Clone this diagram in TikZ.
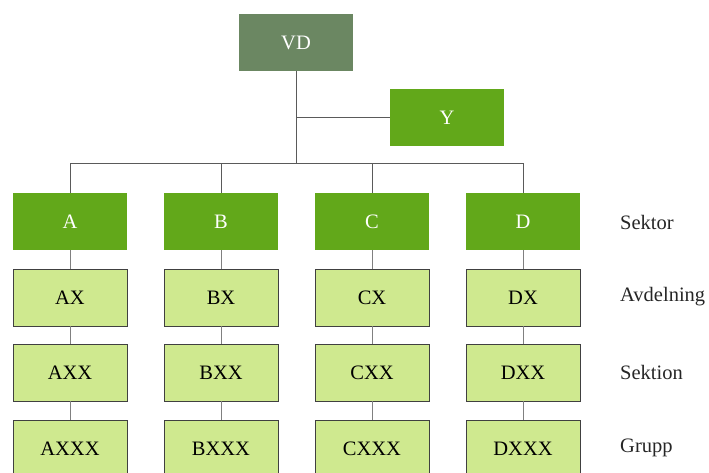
\documentclass[tikz,border=0pt]{standalone}
\usepackage{fontspec}
\setmainfont{Liberation Serif}
\definecolor{vdgreen}{RGB}{107,135,98}
\definecolor{secgreen}{RGB}{98,168,26}
\definecolor{unitgreen}{RGB}{207,233,143}
\definecolor{linkgray}{RGB}{90,90,90}
\begin{document}
\begin{tikzpicture}[x=1pt,y=-1pt,
  every node/.style={font=\fontsize{20.5}{23}\selectfont},
  box/.style={minimum width=114pt,minimum height=57pt,inner sep=0pt},
  topbox/.style={box,fill=vdgreen,text=white},
  secbox/.style={box,fill=secgreen,text=white},
  unitbox/.style={box,fill=unitgreen,draw=black!75,line width=0.8pt,text=black},
  levellabel/.style={anchor=west,inner sep=0pt,text=black!85},
  link/.style={draw=linkgray,line width=1pt},
  sublink/.style={draw=black!50,line width=1pt}]
\clip (0,0) rectangle (709,473);
\useasboundingbox (0,0) rectangle (709,473);

% top management
\node[topbox] (VD) at (296,42.5) {VD};
\node[secbox] (Y) at (447,117.5) {Y};
\coordinate (bus) at (296,164);

% sectors and their sub-units
\foreach \n/\x in {A/70,B/221,C/372,D/523}{
  \node[secbox]  (\n)    at (\x,221.5) {\n};
  \node[unitbox] (\n X)  at (\x,297.5) {\n X};
  \node[unitbox] (\n XX) at (\x,372.5) {\n XX};
  \node[unitbox] (\n XXX) at (\x,448.5) {\n XXX};
}

% level names
\node[levellabel] (l1) at (620,222) {Sektor};
\node[levellabel] (l2) at (620,297) {Avdelning};
\node[levellabel] (l3) at (620,372) {Sektion};
\node[levellabel] (l4) at (620,448) {Grupp};

% connectors
\draw[link] (VD.south) -- (bus);
\draw[link] (VD.south |- Y.west) -- (Y.west);
\foreach \n in {A,B,C,D}{
  \draw[link] (\n.north) |- (bus);
  \draw[sublink] (\n.south) -- (\n X.north);
  \draw[sublink] (\n X.south) -- (\n XX.north);
  \draw[sublink] (\n XX.south) -- (\n XXX.north);
}
\end{tikzpicture}
\end{document}
